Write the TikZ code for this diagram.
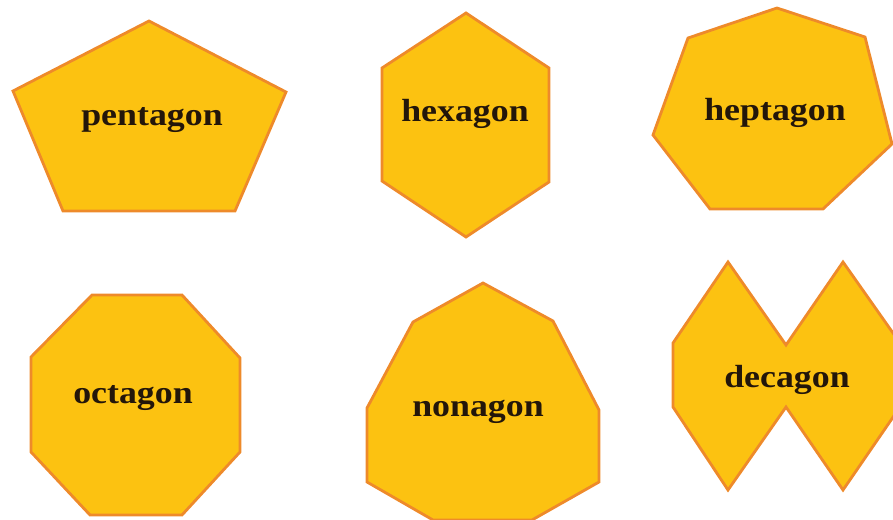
\documentclass[tikz,border=0pt]{standalone}
\usepackage{fontspec}
\setmainfont[FakeStretch=1.12]{Liberation Serif}
\definecolor{polyfill}{HTML}{FCC211}
\definecolor{polyline}{HTML}{EE8A2A}
\definecolor{labeltext}{HTML}{23160A}
\begin{document}
\begin{tikzpicture}[x=1pt,y=-1pt,
  poly/.style={fill=polyfill,draw=polyline,line width=2.8pt,line join=miter},
  lbl/.style={anchor=base,inner sep=0pt,text=labeltext,font=\fontsize{32}{32}\selectfont\bfseries}]
\useasboundingbox (0,0) rectangle (893,519);
\clip (0,0) rectangle (893,519);
% pentagon
\draw[poly] (149,21) -- (286,92) -- (235,211) -- (63,211) -- (13,91) -- cycle;
% hexagon
\draw[poly] (466,13) -- (549,68) -- (549,182) -- (466,237) -- (382,181) -- (382,68) -- cycle;
% heptagon
\draw[poly] (777,8) -- (865,37) -- (892,144) -- (823,209) -- (710,209) -- (653,135) -- (688,38) -- cycle;
% octagon
\draw[poly] (92,295) -- (182,295) -- (240,358) -- (240,452) -- (182,515) -- (90,515) -- (31,452) -- (31,357) -- cycle;
% nonagon
\draw[poly] (483,283) -- (553,321) -- (599,410) -- (599,482) -- (532,520) -- (433,520) -- (367,482) -- (367,408) -- (413,322) -- cycle;
% decagon
\draw[poly] (728,262) -- (786,345) -- (843,262) -- (900,343) -- (900,407) -- (843,490) -- (786,407) -- (728,490) -- (673,407) -- (673,343) -- cycle;
% labels
\node[lbl] (pentagon) at (152,125) {pentagon};
\node[lbl] (hexagon) at (465,121) {hexagon};
\node[lbl] (heptagon) at (775,120) {heptagon};
\node[lbl] (octagon) at (133,403) {octagon};
\node[lbl] (nonagon) at (478,416) {nonagon};
\node[lbl] (decagon) at (787,387) {decagon};
\end{tikzpicture}
\end{document}
